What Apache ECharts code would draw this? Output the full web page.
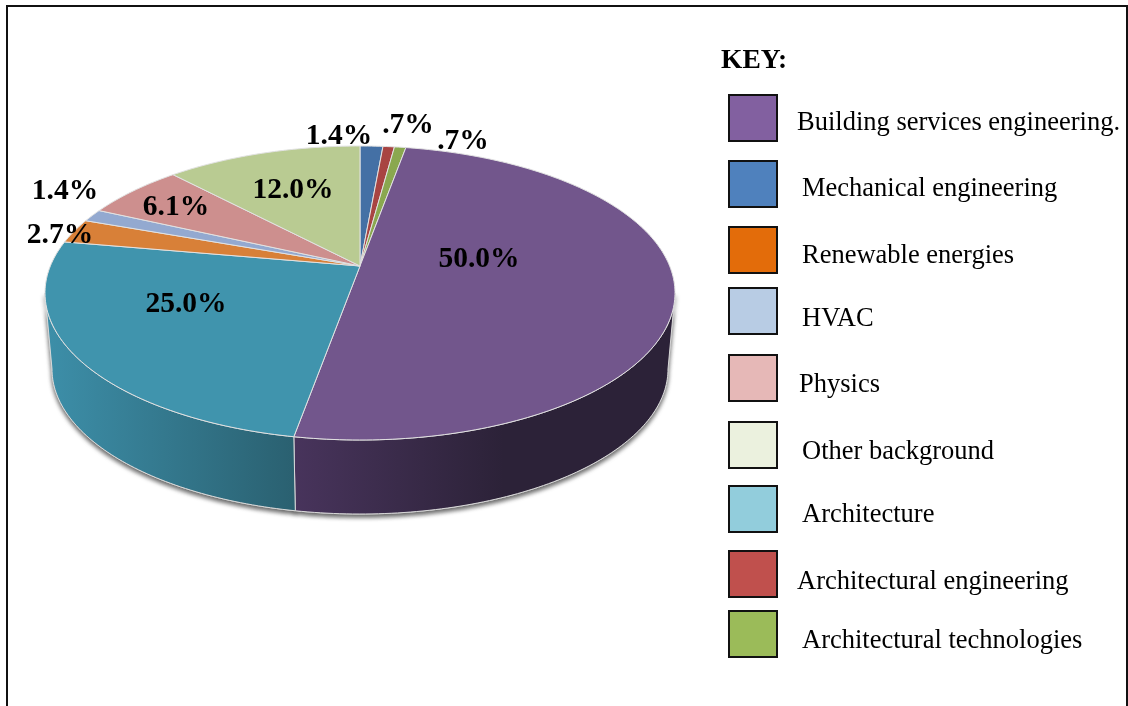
<!DOCTYPE html>
<html lang="en">

<head>
  <meta charset="UTF-8">
  <title>Background of respondents</title>
  <script src="https://cdn.jsdelivr.net/npm/echarts@6/dist/echarts.min.js"></script>
  <style>
    html, body { margin: 0; padding: 0; background: #fff; }
  </style>
</head>

<body>
  <div id="main" style="width: 1128px;height:706px;"></div>
  <script>
    // slices, clockwise from 12 o'clock
    var sliceNames = ['Mechanical engineering', 'Architectural engineering', 'Architectural technologies',
      'Building services engineering.', 'Architecture', 'Renewable energies', 'HVAC', 'Physics', 'Other background'];
    var sliceValues = [1.4, 0.7, 0.7, 50.0, 25.0, 2.7, 1.4, 6.1, 12.0];
    var sliceColors = ['#4470a5', '#a84442', '#8aa84f', '#72568c', '#4094ad', '#d88038', '#93a9d0', '#cd8f8e', '#b9cb92'];

    // only the two big slices show a side wall
    var sideColors = {
      3: [[0, '#48345c'], [0.55, '#2c2238'], [1, '#2c2238']],
      4: [[0, '#3d8fa9'], [1, '#2a6070']]
    };

    // key, in the order of the picture
    var keyNames = ['Building services engineering.', 'Mechanical engineering', 'Renewable energies', 'HVAC',
      'Physics', 'Other background', 'Architecture', 'Architectural engineering', 'Architectural technologies'];
    var keyColors = ['#8260a0', '#4f81bd', '#e36c0a', '#b8cce4', '#e6b8b7', '#ebf1de', '#92cddc', '#c0504d', '#9bbb59'];

    // layout of the labels and the key (placed by hand in the original)
    var labelX = [339, 408, 463, 479, 186, 60, 65, 176, 293];
    var labelY = [136, 125, 141, 259, 304, 235, 191, 207, 190];
    var keyBoxTop = [95, 161, 227, 288, 355, 422, 486, 551, 611];
    var keyTextX = [797, 802, 802, 802, 799, 802, 802, 797, 802];
    var keyTextY = [123, 189, 256, 319, 385, 452, 515, 582, 641];

    var FONT = '"Liberation Serif", "Times New Roman", serif';

    // the disc: outline ellipse and the point where the slices meet (perspective moves it up)
    var cx = 360, cy = 293, rx = 315, ry = 147;
    var hubLift = 27;
    var persp = 2 * hubLift / (2 * ry);
    var ax = rx * Math.sqrt(1 - persp * persp);
    // the lower rim
    var baseCy = 369, baseRx = 308, baseRy = 145;

    var total = sliceValues.reduce(function (a, b) { return a + b; }, 0);

    function sliceRange(idx) {
      var before = 0;
      for (var i = 0; i < idx; i++) before += sliceValues[i];
      return [before / total * 360, (before + sliceValues[idx]) / total * 360];
    }

    // degrees clockwise from the top -> point on the top rim
    function rimPoint(deg) {
      var t = deg * Math.PI / 180;
      var u = Math.sin(t), v = -Math.cos(t);
      var d = 1 - persp * v;
      return [cx + ax * u / d, cy + (ry * v - hubLift) / d];
    }

    function basePoint(deg) {
      var p = rimPoint(deg);
      return [cx + (p[0] - cx) * baseRx / rx, baseCy + (p[1] - cy) * baseRy / ry];
    }

    function arcPoints(fn, from, to) {
      var pts = [];
      var n = Math.max(2, Math.ceil(Math.abs(to - from)));
      for (var i = 0; i <= n; i++) pts.push(fn(from + (to - from) * i / n));
      return pts;
    }

    // side wall is seen only between the two points where the rim is widest
    var sideFrom = Math.acos(-persp) * 180 / Math.PI;
    var sideTo = 360 - sideFrom;

    function wallItem(params, withShadow) {
      var idx = params.dataIndex;
      if (!sideColors[idx]) return null;
      var r = sliceRange(idx);
      var from = Math.max(r[0], sideFrom), to = Math.min(r[1], sideTo);
      if (to <= from) return null;
      var pts = arcPoints(rimPoint, from, to).concat(arcPoints(basePoint, to, from));
      var style = {
        fill: new echarts.graphic.LinearGradient(0, 0, 1, 0, sideColors[idx].map(function (s) {
          return { offset: s[0], color: s[1] };
        })),
        stroke: '#d8d8d8',
        lineWidth: 1
      };
      if (withShadow) {
        style.shadowBlur = 4;
        style.shadowColor = 'rgba(0,0,0,0.6)';
        style.shadowOffsetX = 0;
        style.shadowOffsetY = 3;
      }
      return { type: 'polygon', shape: { points: pts }, style: style };
    }

    function topItem(params) {
      var idx = params.dataIndex;
      var r = sliceRange(idx);
      var hub = [cx, cy - hubLift];
      return {
        type: 'polygon',
        shape: { points: [hub].concat(arcPoints(rimPoint, r[0], r[1])) },
        style: { fill: sliceColors[idx], stroke: '#e2e2e2', lineWidth: 1, lineJoin: 'round' }
      };
    }

    function labelText(v) {
      var s = v.toFixed(1);
      if (v < 1) s = s.replace(/^0/, '');
      return s + '%';
    }

    function labelItem(params, api) {
      var idx = params.dataIndex;
      return {
        type: 'text',
        style: {
          x: labelX[idx],
          y: labelY[idx],
          text: labelText(api.value(0)),
          fill: '#000',
          font: 'bold 29.5px ' + FONT,
          textAlign: 'center',
          textVerticalAlign: 'middle'
        }
      };
    }

    var sliceData = sliceValues.map(function (v, i) {
      return { name: sliceNames[i], value: [v] };
    });

    function customSeries(name, z, renderItem) {
      return {
        name: name,
        type: 'custom',
        coordinateSystem: 'none',
        silent: true,
        z: z,
        data: sliceData,
        renderItem: renderItem
      };
    }

    // frame + key
    var keyGraphics = [{
      type: 'rect',
      shape: { x: 7, y: 6, width: 1120, height: 740 },
      style: { fill: 'none', stroke: '#111', lineWidth: 2 }
    }, {
      type: 'text',
      style: { x: 721, y: 61, text: 'KEY:', fill: '#000', font: 'bold 27.5px ' + FONT, textVerticalAlign: 'middle' }
    }];
    keyNames.forEach(function (name, i) {
      keyGraphics.push({
        type: 'rect',
        shape: { x: 729, y: keyBoxTop[i], width: 48, height: 46 },
        style: { fill: keyColors[i], stroke: '#111', lineWidth: 2 }
      });
      keyGraphics.push({
        type: 'text',
        style: { x: keyTextX[i], y: keyTextY[i], text: name, fill: '#000', font: '26.5px ' + FONT, textVerticalAlign: 'middle' }
      });
    });

    var myChart = echarts.init(document.getElementById('main'));
    var option = {
      animation: false,
      backgroundColor: '#fff',
      graphic: { elements: keyGraphics },
      series: [
        customSeries('shadow', 1, function (p) { return wallItem(p, true); }),
        customSeries('side', 2, function (p) { return wallItem(p, false); }),
        customSeries('top', 3, topItem),
        customSeries('labels', 4, labelItem)
      ]
    };
    myChart.setOption(option);
  </script>
</body>

</html>
